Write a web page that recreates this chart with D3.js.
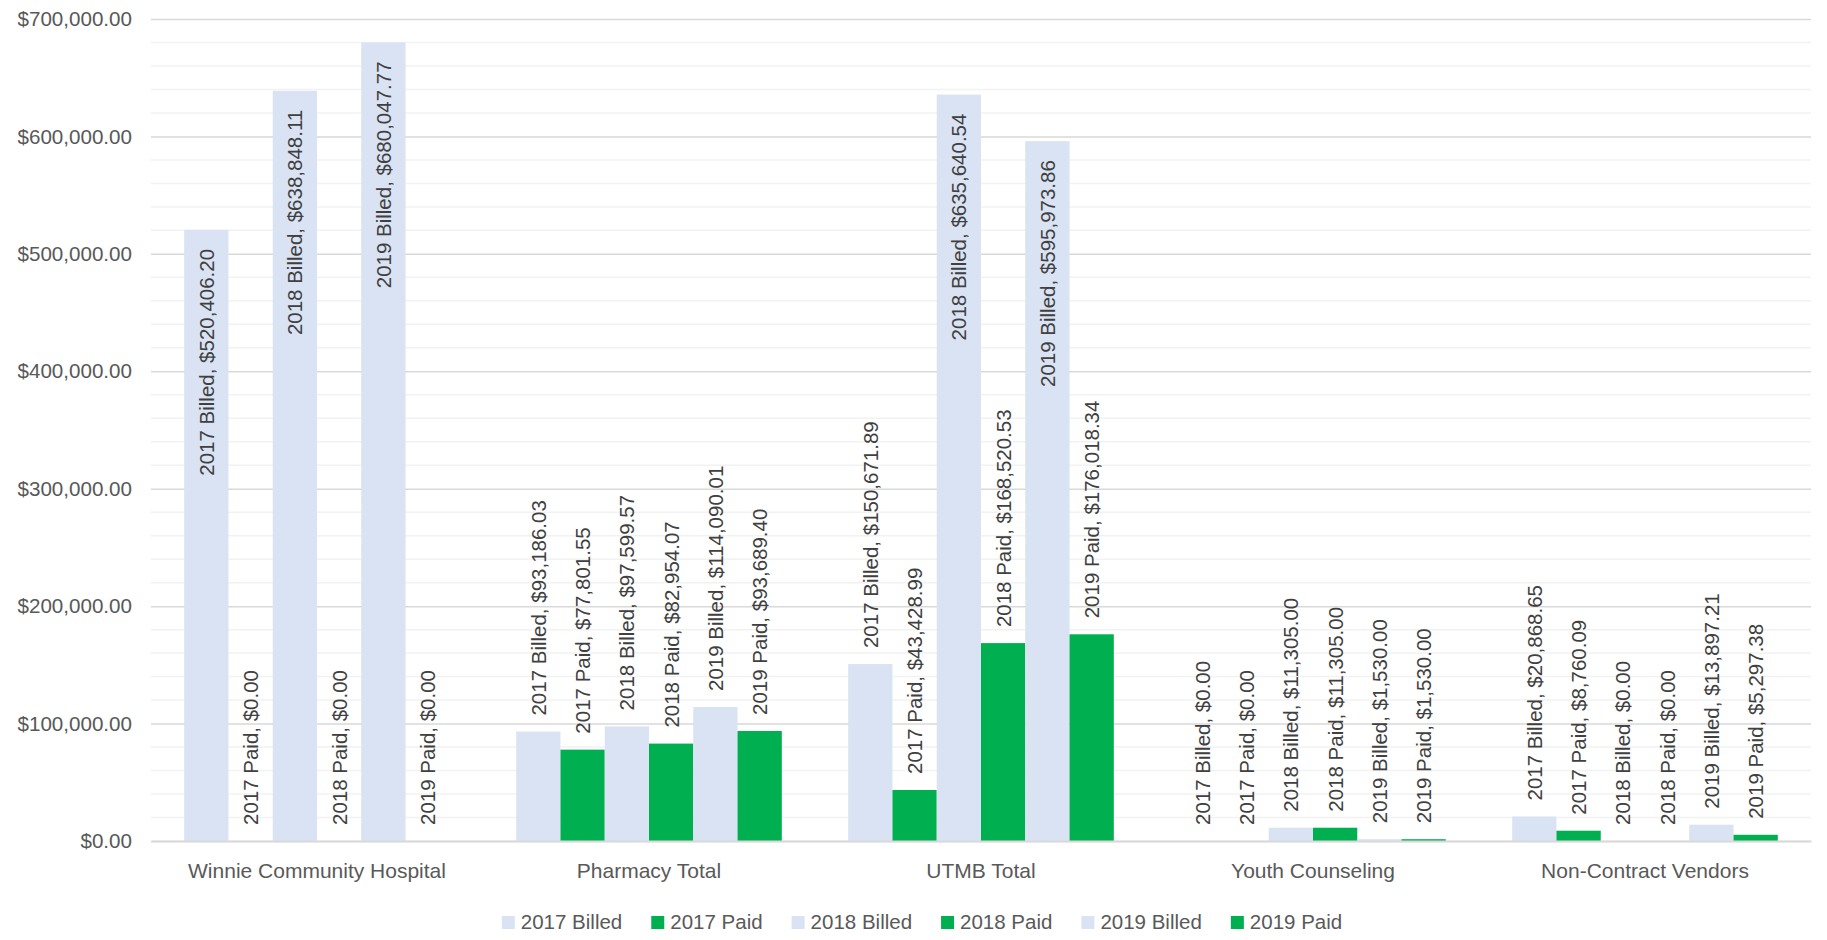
<!DOCTYPE html>
<html>
<head>
<meta charset="utf-8">
<script src="https://cdn.jsdelivr.net/npm/d3@7"></script>
<style>
  html, body { margin: 0; padding: 0; background: #ffffff; }
  svg { display: block; font-family: "Liberation Sans", Arial, sans-serif; }
</style>
</head>
<body>
<svg id="chart" width="1827" height="940"></svg>
<script>
// ---- Data ----
const categories = ["Winnie Community Hospital", "Pharmacy Total", "UTMB Total", "Youth Counseling", "Non-Contract Vendors"];
const seriesNames = ["2017 Billed", "2017 Paid", "2018 Billed", "2018 Paid", "2019 Billed", "2019 Paid"];
const billed2017 = [520406.20, 93186.03, 150671.89, 0.00, 20868.65];
const paid2017   = [0.00, 77801.55, 43428.99, 0.00, 8760.09];
const billed2018 = [638848.11, 97599.57, 635640.54, 11305.00, 0.00];
const paid2018   = [0.00, 82954.07, 168520.53, 11305.00, 0.00];
const billed2019 = [680047.77, 114090.01, 595973.86, 1530.00, 13897.21];
const paid2019   = [0.00, 93689.40, 176018.34, 1530.00, 5297.38];
const yTicks = [0, 100000, 200000, 300000, 400000, 500000, 600000, 700000];

const seriesValues = [billed2017, paid2017, billed2018, paid2018, billed2019, paid2019];
const colorBilled = "#DAE3F3";
const colorPaid = "#00B050";
const seriesColors = seriesNames.map(n => n.indexOf("Billed") >= 0 ? colorBilled : colorPaid);

// ---- Layout ----
const svg = d3.select("#chart");
const plotLeft = 151, plotRight = 1811, plotTop = 19, plotBottom = 841;

const x0 = d3.scaleBand().domain(categories).range([plotLeft, plotRight]).paddingInner(0.2).paddingOuter(0.1);
const x1 = d3.scaleBand().domain(seriesNames).range([0, x0.bandwidth()]).padding(0);
const y = d3.scaleLinear().domain([0, 700000]).range([plotBottom, plotTop]);
const fmt = d3.format("$,.2f");

// minor gridlines
const minorTicks = d3.range(0, 700001, 20000).filter(v => v % 100000 !== 0);
svg.append("g").selectAll("line").data(minorTicks).join("line")
  .attr("x1", plotLeft).attr("x2", plotRight)
  .attr("y1", d => y(d)).attr("y2", d => y(d))
  .attr("stroke", "#F2F2F2").attr("stroke-width", 1.5);

// major gridlines + y axis labels
const yAxis = d3.axisLeft(y).tickValues(yTicks).tickFormat(fmt).tickSize(-(plotRight - plotLeft)).tickPadding(19);
const gy = svg.append("g").attr("transform", `translate(${plotLeft},0)`).call(yAxis);
gy.select(".domain").remove();
gy.selectAll(".tick line").attr("stroke", "#D9D9D9").attr("stroke-width", 1.5);
gy.selectAll(".tick text").attr("fill", "#595959").style("font-size", "20.6px")
  .style("font-family", "'Liberation Sans', Arial, sans-serif");

// bars
const flat = [];
categories.forEach((c, ci) => {
  seriesNames.forEach((s, si) => {
    flat.push({ cat: c, series: s, value: seriesValues[si][ci], color: seriesColors[si] });
  });
});

svg.append("g").selectAll("rect").data(flat).join("rect")
  .attr("x", d => x0(d.cat) + x1(d.series))
  .attr("width", x1.bandwidth())
  .attr("y", d => y(d.value))
  .attr("height", d => y(0) - y(d.value))
  .attr("fill", d => d.color);

// baseline axis
const xAxis = d3.axisBottom(x0).tickSize(0).tickPadding(22);
const gx = svg.append("g").attr("transform", `translate(0,${plotBottom})`).call(xAxis);
gx.select(".domain").attr("stroke", "#D9D9D9").attr("stroke-width", 2);
gx.selectAll(".tick text").attr("fill", "#595959").style("font-size", "21px")
  .style("font-family", "'Liberation Sans', Arial, sans-serif");

// data labels
const labelG = svg.append("g");
labelG.selectAll("text").data(flat).join("text")
  .text(d => `${d.series}, ${fmt(d.value)}`)
  .attr("fill", "#404040")
  .style("font-size", "20.5px")
  .attr("dominant-baseline", "central")
  .each(function(d) {
    const t = d3.select(this);
    const len = this.getComputedTextLength();
    const cx = x0(d.cat) + x1(d.series) + x1.bandwidth() / 2;
    const top = y(d.value);
    let pos, anchor;
    if (top - 16 - len >= plotTop) {
      pos = top - 16; anchor = "start";
    } else {
      pos = top + 19; anchor = "end";
    }
    t.attr("text-anchor", anchor)
     .attr("transform", `translate(${cx},${pos}) rotate(-90)`);
  });

// legend
const legend = svg.append("g");
const items = legend.selectAll("g").data(seriesNames).join("g");
items.append("rect").attr("width", 13).attr("height", 13)
  .attr("fill", (d, i) => seriesColors[i]);
items.append("text").text(d => d).attr("x", 19).attr("y", 12.5)
  .attr("fill", "#595959").style("font-size", "20.5px");
let widths = [];
items.select("text").each(function() { widths.push(this.getComputedTextLength()); });
const itemW = widths.map(w => 19 + w);
const gap = 29;
const total = d3.sum(itemW) + gap * (itemW.length - 1);
let cursor = 922 - total / 2;
items.each(function(d, i) {
  d3.select(this).attr("transform", `translate(${cursor},916)`);
  cursor += itemW[i] + gap;
});
</script>
</body>
</html>
